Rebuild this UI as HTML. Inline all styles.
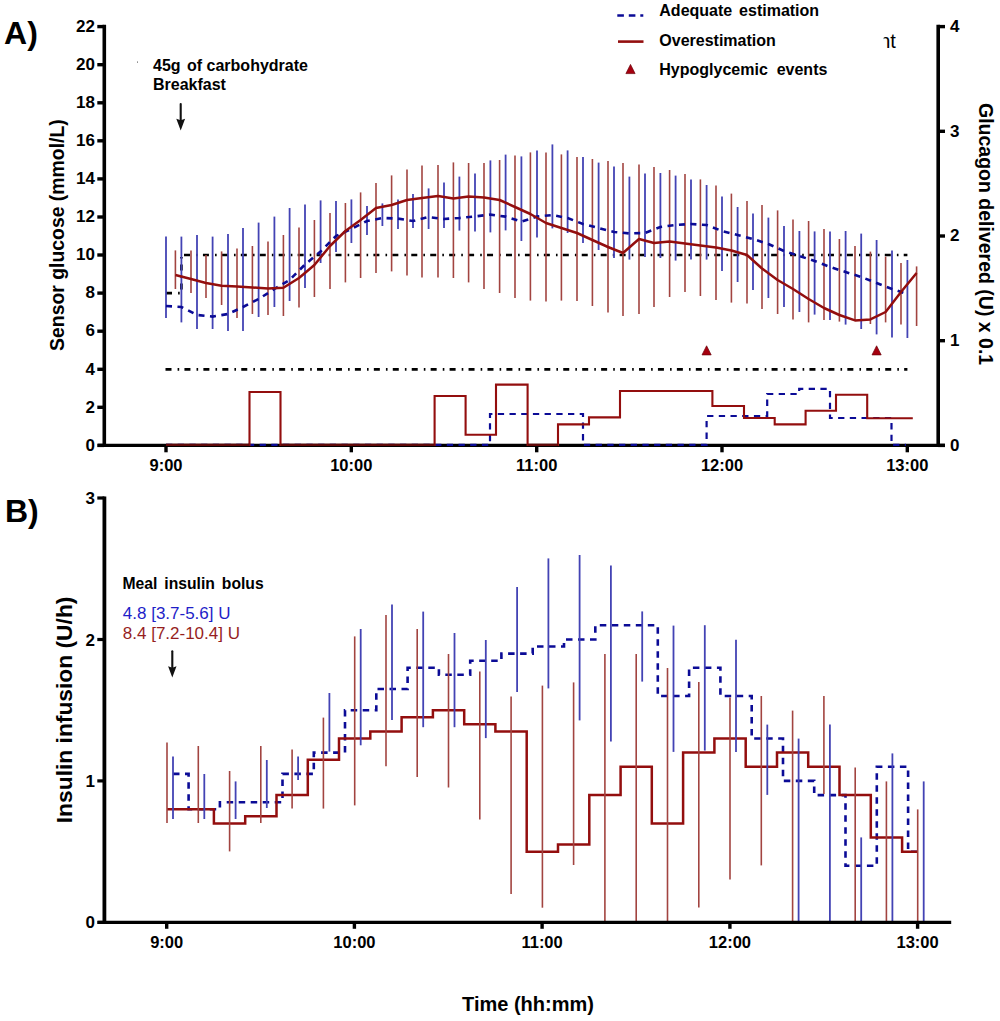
<!DOCTYPE html><html><head><meta charset="utf-8"><style>
html,body{margin:0;padding:0;background:#fff;width:1000px;height:1021px;overflow:hidden}
svg{position:absolute;left:0;top:0;display:block}
text{font-family:"Liberation Sans",sans-serif;font-weight:bold;fill:#000}
</style></head><body>
<svg width="1000" height="1021" viewBox="0 0 1000 1021">
<rect width="1000" height="1021" fill="#fff"/>
<polyline points="166.0,293.1 181.4,293.1 181.4,255.0" stroke="#000" stroke-width="2.7" fill="none" stroke-dasharray="6 6.1 1.6 5.24"/>
<line x1="184" y1="255.0" x2="907.4" y2="255.0" stroke="#000" stroke-width="2.7" fill="none" stroke-dasharray="6 6.1 1.6 5.24"/>
<line x1="165.5" y1="369.3" x2="907.4" y2="369.3" stroke="#000" stroke-width="2.7" fill="none" stroke-dasharray="6 6.1 1.6 5.24"/>
<line x1="166.0" y1="236.6" x2="166.0" y2="318.0" stroke="#4343b4" stroke-width="1.8"/>
<line x1="181.4" y1="236.6" x2="181.4" y2="322.4" stroke="#4343b4" stroke-width="1.8"/>
<line x1="197.0" y1="235.0" x2="197.0" y2="329.0" stroke="#4343b4" stroke-width="1.8"/>
<line x1="212.6" y1="236.6" x2="212.6" y2="329.0" stroke="#4343b4" stroke-width="1.8"/>
<line x1="228.0" y1="234.0" x2="228.0" y2="331.0" stroke="#4343b4" stroke-width="1.8"/>
<line x1="243.0" y1="228.0" x2="243.0" y2="331.0" stroke="#4343b4" stroke-width="1.8"/>
<line x1="258.6" y1="222.6" x2="258.6" y2="317.0" stroke="#4343b4" stroke-width="1.8"/>
<line x1="274.4" y1="216.6" x2="274.4" y2="307.0" stroke="#4343b4" stroke-width="1.8"/>
<line x1="289.6" y1="208.0" x2="289.6" y2="301.0" stroke="#4343b4" stroke-width="1.8"/>
<line x1="305.0" y1="204.4" x2="305.0" y2="288.0" stroke="#4343b4" stroke-width="1.8"/>
<line x1="320.6" y1="200.4" x2="320.6" y2="263.0" stroke="#4343b4" stroke-width="1.8"/>
<line x1="336.0" y1="201.0" x2="336.0" y2="252.0" stroke="#4343b4" stroke-width="1.8"/>
<line x1="351.4" y1="199.4" x2="351.4" y2="243.0" stroke="#4343b4" stroke-width="1.8"/>
<line x1="367.0" y1="206.0" x2="367.0" y2="235.0" stroke="#4343b4" stroke-width="1.8"/>
<line x1="382.4" y1="203.4" x2="382.4" y2="226.0" stroke="#4343b4" stroke-width="1.8"/>
<line x1="398.0" y1="199.6" x2="398.0" y2="229.0" stroke="#4343b4" stroke-width="1.8"/>
<line x1="413.0" y1="194.0" x2="413.0" y2="228.0" stroke="#4343b4" stroke-width="1.8"/>
<line x1="428.6" y1="188.4" x2="428.6" y2="229.0" stroke="#4343b4" stroke-width="1.8"/>
<line x1="444.0" y1="182.4" x2="444.0" y2="228.0" stroke="#4343b4" stroke-width="1.8"/>
<line x1="459.4" y1="176.6" x2="459.4" y2="230.6" stroke="#4343b4" stroke-width="1.8"/>
<line x1="475.0" y1="173.6" x2="475.0" y2="231.6" stroke="#4343b4" stroke-width="1.8"/>
<line x1="490.4" y1="160.4" x2="490.4" y2="232.4" stroke="#4343b4" stroke-width="1.8"/>
<line x1="505.6" y1="154.6" x2="505.6" y2="230.4" stroke="#4343b4" stroke-width="1.8"/>
<line x1="521.4" y1="156.4" x2="521.4" y2="241.0" stroke="#4343b4" stroke-width="1.8"/>
<line x1="537.0" y1="150.4" x2="537.0" y2="237.6" stroke="#4343b4" stroke-width="1.8"/>
<line x1="552.4" y1="144.4" x2="552.4" y2="228.4" stroke="#4343b4" stroke-width="1.8"/>
<line x1="567.6" y1="150.4" x2="567.6" y2="233.0" stroke="#4343b4" stroke-width="1.8"/>
<line x1="583.0" y1="157.0" x2="583.0" y2="243.0" stroke="#4343b4" stroke-width="1.8"/>
<line x1="598.6" y1="162.6" x2="598.6" y2="250.0" stroke="#4343b4" stroke-width="1.8"/>
<line x1="614.0" y1="166.6" x2="614.0" y2="258.0" stroke="#4343b4" stroke-width="1.8"/>
<line x1="629.4" y1="176.6" x2="629.4" y2="259.6" stroke="#4343b4" stroke-width="1.8"/>
<line x1="645.0" y1="173.6" x2="645.0" y2="257.0" stroke="#4343b4" stroke-width="1.8"/>
<line x1="660.4" y1="173.0" x2="660.4" y2="258.0" stroke="#4343b4" stroke-width="1.8"/>
<line x1="675.6" y1="175.6" x2="675.6" y2="260.6" stroke="#4343b4" stroke-width="1.8"/>
<line x1="691.0" y1="179.6" x2="691.0" y2="259.6" stroke="#4343b4" stroke-width="1.8"/>
<line x1="706.6" y1="185.0" x2="706.6" y2="259.6" stroke="#4343b4" stroke-width="1.8"/>
<line x1="722.0" y1="196.6" x2="722.0" y2="271.0" stroke="#4343b4" stroke-width="1.8"/>
<line x1="737.6" y1="207.0" x2="737.6" y2="282.0" stroke="#4343b4" stroke-width="1.8"/>
<line x1="753.0" y1="213.6" x2="753.0" y2="290.0" stroke="#4343b4" stroke-width="1.8"/>
<line x1="768.4" y1="217.6" x2="768.4" y2="298.0" stroke="#4343b4" stroke-width="1.8"/>
<line x1="784.0" y1="226.0" x2="784.0" y2="307.0" stroke="#4343b4" stroke-width="1.8"/>
<line x1="799.4" y1="231.0" x2="799.4" y2="312.0" stroke="#4343b4" stroke-width="1.8"/>
<line x1="814.6" y1="231.4" x2="814.6" y2="314.6" stroke="#4343b4" stroke-width="1.8"/>
<line x1="830.0" y1="231.4" x2="830.0" y2="320.0" stroke="#4343b4" stroke-width="1.8"/>
<line x1="845.6" y1="231.0" x2="845.6" y2="324.6" stroke="#4343b4" stroke-width="1.8"/>
<line x1="861.2" y1="233.6" x2="861.2" y2="329.0" stroke="#4343b4" stroke-width="1.8"/>
<line x1="876.6" y1="240.0" x2="876.6" y2="334.4" stroke="#4343b4" stroke-width="1.8"/>
<line x1="892.0" y1="250.6" x2="892.0" y2="337.4" stroke="#4343b4" stroke-width="1.8"/>
<line x1="907.4" y1="260.0" x2="907.4" y2="338.0" stroke="#4343b4" stroke-width="1.8"/>
<line x1="175.4" y1="250.4" x2="175.4" y2="289.0" stroke="#a24440" stroke-width="1.6"/>
<line x1="191.0" y1="250.4" x2="191.0" y2="293.0" stroke="#a24440" stroke-width="1.6"/>
<line x1="206.0" y1="255.0" x2="206.0" y2="298.0" stroke="#a24440" stroke-width="1.6"/>
<line x1="221.6" y1="251.4" x2="221.6" y2="305.0" stroke="#a24440" stroke-width="1.6"/>
<line x1="237.0" y1="248.4" x2="237.0" y2="318.0" stroke="#a24440" stroke-width="1.6"/>
<line x1="252.4" y1="246.0" x2="252.4" y2="314.0" stroke="#a24440" stroke-width="1.6"/>
<line x1="268.0" y1="241.6" x2="268.0" y2="315.0" stroke="#a24440" stroke-width="1.6"/>
<line x1="283.4" y1="235.0" x2="283.4" y2="316.0" stroke="#a24440" stroke-width="1.6"/>
<line x1="299.0" y1="227.4" x2="299.0" y2="307.6" stroke="#a24440" stroke-width="1.6"/>
<line x1="314.4" y1="220.0" x2="314.4" y2="297.0" stroke="#a24440" stroke-width="1.6"/>
<line x1="330.0" y1="213.0" x2="330.0" y2="289.0" stroke="#a24440" stroke-width="1.6"/>
<line x1="345.4" y1="203.0" x2="345.4" y2="282.4" stroke="#a24440" stroke-width="1.6"/>
<line x1="360.6" y1="192.4" x2="360.6" y2="278.0" stroke="#a24440" stroke-width="1.6"/>
<line x1="376.0" y1="183.0" x2="376.0" y2="273.0" stroke="#a24440" stroke-width="1.6"/>
<line x1="391.6" y1="175.4" x2="391.6" y2="271.4" stroke="#a24440" stroke-width="1.6"/>
<line x1="407.0" y1="169.6" x2="407.0" y2="275.6" stroke="#a24440" stroke-width="1.6"/>
<line x1="422.0" y1="165.6" x2="422.0" y2="277.6" stroke="#a24440" stroke-width="1.6"/>
<line x1="438.0" y1="165.0" x2="438.0" y2="277.4" stroke="#a24440" stroke-width="1.6"/>
<line x1="453.4" y1="162.4" x2="453.4" y2="278.0" stroke="#a24440" stroke-width="1.6"/>
<line x1="468.6" y1="163.0" x2="468.6" y2="282.4" stroke="#a24440" stroke-width="1.6"/>
<line x1="484.0" y1="163.0" x2="484.0" y2="289.0" stroke="#a24440" stroke-width="1.6"/>
<line x1="499.6" y1="160.0" x2="499.6" y2="293.0" stroke="#a24440" stroke-width="1.6"/>
<line x1="515.0" y1="155.6" x2="515.0" y2="298.0" stroke="#a24440" stroke-width="1.6"/>
<line x1="530.4" y1="152.4" x2="530.4" y2="300.6" stroke="#a24440" stroke-width="1.6"/>
<line x1="546.0" y1="152.4" x2="546.0" y2="301.6" stroke="#a24440" stroke-width="1.6"/>
<line x1="561.4" y1="154.4" x2="561.4" y2="300.6" stroke="#a24440" stroke-width="1.6"/>
<line x1="577.0" y1="157.0" x2="577.0" y2="301.0" stroke="#a24440" stroke-width="1.6"/>
<line x1="592.4" y1="159.0" x2="592.4" y2="306.0" stroke="#a24440" stroke-width="1.6"/>
<line x1="608.0" y1="161.0" x2="608.0" y2="312.4" stroke="#a24440" stroke-width="1.6"/>
<line x1="623.0" y1="163.0" x2="623.0" y2="316.0" stroke="#a24440" stroke-width="1.6"/>
<line x1="639.0" y1="164.6" x2="639.0" y2="314.0" stroke="#a24440" stroke-width="1.6"/>
<line x1="654.0" y1="167.0" x2="654.0" y2="307.0" stroke="#a24440" stroke-width="1.6"/>
<line x1="669.6" y1="170.0" x2="669.6" y2="297.0" stroke="#a24440" stroke-width="1.6"/>
<line x1="685.0" y1="174.0" x2="685.0" y2="292.0" stroke="#a24440" stroke-width="1.6"/>
<line x1="700.4" y1="179.4" x2="700.4" y2="296.0" stroke="#a24440" stroke-width="1.6"/>
<line x1="716.0" y1="185.6" x2="716.0" y2="300.0" stroke="#a24440" stroke-width="1.6"/>
<line x1="731.4" y1="193.6" x2="731.4" y2="302.6" stroke="#a24440" stroke-width="1.6"/>
<line x1="747.0" y1="201.0" x2="747.0" y2="303.6" stroke="#a24440" stroke-width="1.6"/>
<line x1="762.0" y1="205.0" x2="762.0" y2="309.0" stroke="#a24440" stroke-width="1.6"/>
<line x1="777.6" y1="210.4" x2="777.6" y2="314.0" stroke="#a24440" stroke-width="1.6"/>
<line x1="793.0" y1="219.6" x2="793.0" y2="319.6" stroke="#a24440" stroke-width="1.6"/>
<line x1="808.6" y1="221.0" x2="808.6" y2="322.4" stroke="#a24440" stroke-width="1.6"/>
<line x1="824.0" y1="229.0" x2="824.0" y2="320.0" stroke="#a24440" stroke-width="1.6"/>
<line x1="839.4" y1="239.0" x2="839.4" y2="321.6" stroke="#a24440" stroke-width="1.6"/>
<line x1="855.0" y1="246.0" x2="855.0" y2="321.0" stroke="#a24440" stroke-width="1.6"/>
<line x1="870.4" y1="251.6" x2="870.4" y2="324.0" stroke="#a24440" stroke-width="1.6"/>
<line x1="885.6" y1="256.6" x2="885.6" y2="322.4" stroke="#a24440" stroke-width="1.6"/>
<line x1="901.0" y1="263.0" x2="901.0" y2="324.6" stroke="#a24440" stroke-width="1.6"/>
<line x1="916.6" y1="266.4" x2="916.6" y2="326.0" stroke="#a24440" stroke-width="1.6"/>
<polyline points="166.0,306.0 181.4,307.0 197.0,315.0 212.6,316.6 228.0,314.0 243.0,307.0 258.6,299.0 274.4,289.0 289.6,280.0 305.0,264.5 320.6,251.5 336.0,236.0 351.4,229.0 367.0,221.0 382.4,218.0 398.0,218.6 413.0,221.0 428.6,217.0 444.0,219.0 459.4,218.0 475.0,216.4 490.4,214.6 505.6,216.6 521.4,221.6 537.0,216.6 552.4,215.0 567.6,218.0 583.0,224.0 598.6,228.0 614.0,232.0 629.4,233.4 645.0,233.0 660.4,227.0 675.6,225.0 691.0,224.0 706.6,225.0 722.0,231.0 737.6,235.0 753.0,239.0 768.4,244.0 784.0,251.0 799.4,256.0 814.6,261.0 830.0,267.0 845.6,272.0 861.2,277.0 876.6,283.0 892.0,289.0 907.4,294.0" fill="none" stroke="#0b0b96" stroke-width="2.6" stroke-dasharray="6 5.5"/>
<polyline points="175.4,275.0 191.0,279.0 206.0,283.0 221.6,285.8 237.0,286.6 252.4,287.5 268.0,288.5 283.4,287.8 299.0,278.0 314.4,265.0 330.0,246.0 345.4,231.0 360.6,220.0 376.0,208.0 391.6,205.0 407.0,200.0 422.0,198.0 438.0,196.0 453.4,198.4 468.6,196.6 484.0,197.4 499.6,200.0 515.0,207.0 530.4,214.0 546.0,223.0 561.4,228.0 577.0,233.0 592.4,240.0 608.0,247.0 623.0,253.0 639.0,239.0 654.0,243.0 669.6,241.6 685.0,243.6 700.4,245.4 716.0,247.4 731.4,250.5 747.0,255.0 762.0,268.5 777.6,280.0 793.0,289.0 808.6,299.0 824.0,308.0 839.4,315.0 855.0,320.4 870.4,319.4 885.6,312.0 901.0,292.0 916.6,273.0" fill="none" stroke="#930e0e" stroke-width="2.5" stroke-linejoin="round"/>
<polygon points="706.6,345.8 702.0,354.9 711.2,354.9" fill="#a6000f" stroke="#6a0008" stroke-width="0.7" stroke-linejoin="round"/>
<polygon points="876.6,345.8 872.0,354.9 881.2,354.9" fill="#a6000f" stroke="#6a0008" stroke-width="0.7" stroke-linejoin="round"/>
<line x1="104.3" y1="24.7" x2="104.3" y2="447" stroke="#000" stroke-width="3.6"/>
<line x1="97.8" y1="445.4" x2="944.8" y2="445.4" stroke="#000" stroke-width="3.3"/>
<line x1="938.2" y1="24.7" x2="938.2" y2="447" stroke="#000" stroke-width="3.6"/>
<line x1="97.3" y1="445.4" x2="104.3" y2="445.4" stroke="#000" stroke-width="3.4"/>
<text x="94.9" y="450.6" font-size="17" text-anchor="end">0</text>
<line x1="97.3" y1="407.3" x2="104.3" y2="407.3" stroke="#000" stroke-width="3.4"/>
<text x="94.9" y="412.5" font-size="17" text-anchor="end">2</text>
<line x1="97.3" y1="369.3" x2="104.3" y2="369.3" stroke="#000" stroke-width="3.4"/>
<text x="94.9" y="374.5" font-size="17" text-anchor="end">4</text>
<line x1="97.3" y1="331.2" x2="104.3" y2="331.2" stroke="#000" stroke-width="3.4"/>
<text x="94.9" y="336.4" font-size="17" text-anchor="end">6</text>
<line x1="97.3" y1="293.1" x2="104.3" y2="293.1" stroke="#000" stroke-width="3.4"/>
<text x="94.9" y="298.3" font-size="17" text-anchor="end">8</text>
<line x1="97.3" y1="255.0" x2="104.3" y2="255.0" stroke="#000" stroke-width="3.4"/>
<text x="94.9" y="260.2" font-size="17" text-anchor="end">10</text>
<line x1="97.3" y1="217.0" x2="104.3" y2="217.0" stroke="#000" stroke-width="3.4"/>
<text x="94.9" y="222.2" font-size="17" text-anchor="end">12</text>
<line x1="97.3" y1="178.9" x2="104.3" y2="178.9" stroke="#000" stroke-width="3.4"/>
<text x="94.9" y="184.1" font-size="17" text-anchor="end">14</text>
<line x1="97.3" y1="140.8" x2="104.3" y2="140.8" stroke="#000" stroke-width="3.4"/>
<text x="94.9" y="146.0" font-size="17" text-anchor="end">16</text>
<line x1="97.3" y1="102.8" x2="104.3" y2="102.8" stroke="#000" stroke-width="3.4"/>
<text x="94.9" y="108.0" font-size="17" text-anchor="end">18</text>
<line x1="97.3" y1="64.7" x2="104.3" y2="64.7" stroke="#000" stroke-width="3.4"/>
<text x="94.9" y="69.9" font-size="17" text-anchor="end">20</text>
<line x1="97.3" y1="26.6" x2="104.3" y2="26.6" stroke="#000" stroke-width="3.4"/>
<text x="94.9" y="31.8" font-size="17" text-anchor="end">22</text>
<line x1="938.2" y1="445.4" x2="945" y2="445.4" stroke="#000" stroke-width="3.4"/>
<text x="949.9" y="450.7" font-size="17">0</text>
<line x1="938.2" y1="340.7" x2="945" y2="340.7" stroke="#000" stroke-width="3.4"/>
<text x="949.9" y="346.0" font-size="17">1</text>
<line x1="938.2" y1="236.0" x2="945" y2="236.0" stroke="#000" stroke-width="3.4"/>
<text x="949.9" y="241.3" font-size="17">2</text>
<line x1="938.2" y1="131.3" x2="945" y2="131.3" stroke="#000" stroke-width="3.4"/>
<text x="949.9" y="136.6" font-size="17">3</text>
<line x1="938.2" y1="26.6" x2="945" y2="26.6" stroke="#000" stroke-width="3.4"/>
<text x="949.9" y="31.9" font-size="17">4</text>
<line x1="166.0" y1="445.4" x2="166.0" y2="452.3" stroke="#000" stroke-width="3.4"/>
<text x="166.0" y="471" font-size="16.5" text-anchor="middle">9:00</text>
<line x1="351.3" y1="445.4" x2="351.3" y2="452.3" stroke="#000" stroke-width="3.4"/>
<text x="351.3" y="471" font-size="16.5" text-anchor="middle">10:00</text>
<line x1="536.7" y1="445.4" x2="536.7" y2="452.3" stroke="#000" stroke-width="3.4"/>
<text x="536.7" y="471" font-size="16.5" text-anchor="middle">11:00</text>
<line x1="722.0" y1="445.4" x2="722.0" y2="452.3" stroke="#000" stroke-width="3.4"/>
<text x="722.0" y="471" font-size="16.5" text-anchor="middle">12:00</text>
<line x1="907.3" y1="445.4" x2="907.3" y2="452.3" stroke="#000" stroke-width="3.4"/>
<text x="907.3" y="471" font-size="16.5" text-anchor="middle">13:00</text>
<polyline points="166.0,444.9 490.0,444.9 490.0,414.0 583.0,414.0 583.0,444.9 706.6,444.9 706.6,416.0 767.2,416.0 767.2,394.0 799.2,394.0 799.2,388.9 830.0,388.9 830.0,418.0 891.5,418.0 891.5,444.9 906.0,444.9" fill="none" stroke="#0b0b96" stroke-width="2.2" stroke-dasharray="6.3 5.4"/>
<polyline points="166.0,444.9 249.5,444.9 249.5,392.0 280.5,392.0 280.5,444.9 434.6,444.9 434.6,396.0 465.6,396.0 465.6,434.8 496.0,434.8 496.0,384.6 527.6,384.6 527.6,444.9 558.0,444.9 558.0,424.4 589.0,424.4 589.0,417.4 620.0,417.4 620.0,391.0 712.4,391.0 712.4,406.0 744.0,406.0 744.0,418.0 774.7,418.0 774.7,424.4 805.6,424.4 805.6,410.8 836.0,410.8 836.0,394.8 867.2,394.8 867.2,418.3 912.8,418.3" fill="none" stroke="#930e0e" stroke-width="2.1"/>
<line x1="166.0" y1="444.9" x2="249.5" y2="444.9" stroke="#000" stroke-opacity="0.35" stroke-width="2.1"/>
<line x1="280.5" y1="444.9" x2="434.6" y2="444.9" stroke="#000" stroke-opacity="0.35" stroke-width="2.1"/>
<line x1="527.6" y1="444.9" x2="558.0" y2="444.9" stroke="#000" stroke-opacity="0.35" stroke-width="2.1"/>
<text x="4.1" y="44.2" font-size="32">A)</text>
<text transform="translate(64,235.1) rotate(-90)" font-size="19.4" text-anchor="middle">Sensor glucose (mmol/L)</text>
<text transform="translate(979.3,234.1) rotate(90)" font-size="19.5" text-anchor="middle">Glucagon delivered (U) x 0.1</text>
<text x="153" y="70.5" font-size="16">45g<tspan dx="2"> of carbohydrate</tspan></text>
<text x="153" y="90" font-size="16">Breakfast</text>
<line x1="180.7" y1="104" x2="180.7" y2="121" stroke="#111" stroke-width="2.1" stroke-linecap="round"/>
<polygon points="176.3,118.8 180.7,120.3 185.1,118.8 180.7,130.6" fill="#111"/>
<rect x="137" y="61.5" width="1" height="1.2" fill="#666"/>
<line x1="617.3" y1="15.5" x2="643.3" y2="15.5" stroke="#0b0b96" stroke-width="2.4" stroke-dasharray="6.6 4.9"/>
<line x1="618" y1="41.6" x2="643.5" y2="41.6" stroke="#930e0e" stroke-width="2.6"/>
<polygon points="630.5,64.4 625.9,73.6 635.1,73.6" fill="#a6000f" stroke="#6a0008" stroke-width="0.7" stroke-linejoin="round"/>
<text x="659.3" y="16" font-size="16" xml:space="preserve" word-spacing="-1">Adequate  estimation</text>
<text x="659.3" y="45.6" font-size="16">Overestimation</text>
<text x="659.3" y="75.2" font-size="16" xml:space="preserve">Hypoglycemic  events</text>
<svg x="883.6" y="25" width="20" height="30" overflow="hidden"><text x="-4.4" y="22.9" font-size="20" style="font-weight:normal">nt</text></svg>
<polyline points="173.0,773.9 188.6,773.9 188.6,809.2 219.9,809.2 219.9,802.2 251.2,802.2 251.2,802.2 282.5,802.2 282.5,773.9 313.8,773.9 313.8,752.6 345.0,752.6 345.0,710.2 376.3,710.2 376.3,689.0 407.6,689.0 407.6,667.8 438.9,667.8 438.9,674.8 470.2,674.8 470.2,660.7 501.4,660.7 501.4,653.6 532.7,653.6 532.7,646.5 564.0,646.5 564.0,639.5 595.3,639.5 595.3,625.3 626.6,625.3 626.6,625.3 657.8,625.3 657.8,696.0 689.1,696.0 689.1,667.8 720.4,667.8 720.4,696.0 751.7,696.0 751.7,738.5 783.0,738.5 783.0,780.9 814.2,780.9 814.2,795.1 845.5,795.1 845.5,865.8 876.8,865.8 876.8,766.8 908.1,766.8 908.1,851.7 923.7,851.7" fill="none" stroke="#0b0b96" stroke-width="2.6" stroke-dasharray="6.5 5.5"/>
<polyline points="167.0,809.2 182.6,809.2 182.6,809.2 213.9,809.2 213.9,823.4 245.2,823.4 245.2,816.3 276.5,816.3 276.5,795.1 307.8,795.1 307.8,759.7 339.0,759.7 339.0,738.5 370.3,738.5 370.3,731.4 401.6,731.4 401.6,717.3 432.9,717.3 432.9,710.2 464.2,710.2 464.2,724.3 495.4,724.3 495.4,731.4 526.7,731.4 526.7,851.7 558.0,851.7 558.0,844.6 589.3,844.6 589.3,795.1 620.6,795.1 620.6,766.8 651.8,766.8 651.8,823.4 683.1,823.4 683.1,752.6 714.4,752.6 714.4,738.5 745.7,738.5 745.7,766.8 777.0,766.8 777.0,752.6 808.2,752.6 808.2,766.8 839.5,766.8 839.5,795.1 870.8,795.1 870.8,837.5 902.1,837.5 902.1,851.7 917.7,851.7" fill="none" stroke="#930e0e" stroke-width="2.5"/>
<line x1="167.0" y1="742.4" x2="167.0" y2="823.0" stroke="#a24440" stroke-width="1.6"/>
<line x1="198.3" y1="746.0" x2="198.3" y2="823.0" stroke="#a24440" stroke-width="1.6"/>
<line x1="229.6" y1="771.0" x2="229.6" y2="851.4" stroke="#a24440" stroke-width="1.6"/>
<line x1="260.8" y1="746.0" x2="260.8" y2="823.0" stroke="#a24440" stroke-width="1.6"/>
<line x1="292.1" y1="749.6" x2="292.1" y2="808.6" stroke="#a24440" stroke-width="1.6"/>
<line x1="323.4" y1="717.6" x2="323.4" y2="808.6" stroke="#a24440" stroke-width="1.6"/>
<line x1="354.7" y1="636.4" x2="354.7" y2="805.4" stroke="#a24440" stroke-width="1.6"/>
<line x1="386.0" y1="615.0" x2="386.0" y2="766.3" stroke="#a24440" stroke-width="1.6"/>
<line x1="417.2" y1="629.0" x2="417.2" y2="777.0" stroke="#a24440" stroke-width="1.6"/>
<line x1="448.5" y1="654.0" x2="448.5" y2="787.5" stroke="#a24440" stroke-width="1.6"/>
<line x1="479.8" y1="671.6" x2="479.8" y2="819.4" stroke="#a24440" stroke-width="1.6"/>
<line x1="511.1" y1="696.4" x2="511.1" y2="893.9" stroke="#a24440" stroke-width="1.6"/>
<line x1="542.4" y1="685.6" x2="542.4" y2="907.7" stroke="#a24440" stroke-width="1.6"/>
<line x1="573.6" y1="682.4" x2="573.6" y2="865.0" stroke="#a24440" stroke-width="1.6"/>
<line x1="604.9" y1="654.0" x2="604.9" y2="922.0" stroke="#a24440" stroke-width="1.6"/>
<line x1="636.2" y1="654.0" x2="636.2" y2="922.0" stroke="#a24440" stroke-width="1.6"/>
<line x1="667.5" y1="668.0" x2="667.5" y2="922.0" stroke="#a24440" stroke-width="1.6"/>
<line x1="698.8" y1="682.0" x2="698.8" y2="907.4" stroke="#a24440" stroke-width="1.6"/>
<line x1="730.0" y1="697.4" x2="730.0" y2="879.4" stroke="#a24440" stroke-width="1.6"/>
<line x1="761.3" y1="696.0" x2="761.3" y2="865.4" stroke="#a24440" stroke-width="1.6"/>
<line x1="792.6" y1="710.6" x2="792.6" y2="922.0" stroke="#a24440" stroke-width="1.6"/>
<line x1="823.9" y1="696.0" x2="823.9" y2="794.0" stroke="#a24440" stroke-width="1.6"/>
<line x1="855.2" y1="767.4" x2="855.2" y2="922.0" stroke="#a24440" stroke-width="1.6"/>
<line x1="886.4" y1="781.4" x2="886.4" y2="922.0" stroke="#a24440" stroke-width="1.6"/>
<line x1="917.7" y1="809.4" x2="917.7" y2="922.0" stroke="#a24440" stroke-width="1.6"/>
<line x1="173.0" y1="756.4" x2="173.0" y2="819.0" stroke="#4343b4" stroke-width="1.8"/>
<line x1="204.3" y1="774.0" x2="204.3" y2="819.0" stroke="#4343b4" stroke-width="1.8"/>
<line x1="235.6" y1="781.4" x2="235.6" y2="819.0" stroke="#4343b4" stroke-width="1.8"/>
<line x1="266.8" y1="760.0" x2="266.8" y2="808.0" stroke="#4343b4" stroke-width="1.8"/>
<line x1="298.1" y1="756.6" x2="298.1" y2="780.0" stroke="#4343b4" stroke-width="1.8"/>
<line x1="329.4" y1="693.0" x2="329.4" y2="751.6" stroke="#4343b4" stroke-width="1.8"/>
<line x1="360.7" y1="629.0" x2="360.7" y2="745.3" stroke="#4343b4" stroke-width="1.8"/>
<line x1="392.0" y1="604.4" x2="392.0" y2="720.0" stroke="#4343b4" stroke-width="1.8"/>
<line x1="423.2" y1="611.6" x2="423.2" y2="727.2" stroke="#4343b4" stroke-width="1.8"/>
<line x1="454.5" y1="633.0" x2="454.5" y2="727.2" stroke="#4343b4" stroke-width="1.8"/>
<line x1="485.8" y1="640.0" x2="485.8" y2="738.1" stroke="#4343b4" stroke-width="1.8"/>
<line x1="517.1" y1="587.0" x2="517.1" y2="692.0" stroke="#4343b4" stroke-width="1.8"/>
<line x1="548.4" y1="558.4" x2="548.4" y2="688.4" stroke="#4343b4" stroke-width="1.8"/>
<line x1="579.6" y1="555.0" x2="579.6" y2="720.4" stroke="#4343b4" stroke-width="1.8"/>
<line x1="610.9" y1="565.6" x2="610.9" y2="741.6" stroke="#4343b4" stroke-width="1.8"/>
<line x1="642.2" y1="611.4" x2="642.2" y2="681.6" stroke="#4343b4" stroke-width="1.8"/>
<line x1="673.5" y1="625.6" x2="673.5" y2="751.9" stroke="#4343b4" stroke-width="1.8"/>
<line x1="704.8" y1="625.2" x2="704.8" y2="750.6" stroke="#4343b4" stroke-width="1.8"/>
<line x1="736.0" y1="639.7" x2="736.0" y2="752.0" stroke="#4343b4" stroke-width="1.8"/>
<line x1="767.3" y1="724.6" x2="767.3" y2="794.9" stroke="#4343b4" stroke-width="1.8"/>
<line x1="798.6" y1="738.6" x2="798.6" y2="922.0" stroke="#4343b4" stroke-width="1.8"/>
<line x1="829.9" y1="724.6" x2="829.9" y2="922.0" stroke="#4343b4" stroke-width="1.8"/>
<line x1="861.2" y1="837.4" x2="861.2" y2="922.0" stroke="#4343b4" stroke-width="1.8"/>
<line x1="892.4" y1="753.4" x2="892.4" y2="922.0" stroke="#4343b4" stroke-width="1.8"/>
<line x1="923.7" y1="781.4" x2="923.7" y2="922.0" stroke="#4343b4" stroke-width="1.8"/>
<line x1="104.4" y1="496.5" x2="104.4" y2="924" stroke="#000" stroke-width="3.8"/>
<line x1="97.7" y1="922.4" x2="951.2" y2="922.4" stroke="#000" stroke-width="3.4"/>
<line x1="97.3" y1="922.4" x2="104.4" y2="922.4" stroke="#000" stroke-width="3.2"/>
<text x="95" y="928.4" font-size="17" text-anchor="end">0</text>
<line x1="97.3" y1="780.9" x2="104.4" y2="780.9" stroke="#000" stroke-width="3.2"/>
<text x="95" y="786.9" font-size="17" text-anchor="end">1</text>
<line x1="97.3" y1="639.5" x2="104.4" y2="639.5" stroke="#000" stroke-width="3.2"/>
<text x="95" y="645.5" font-size="17" text-anchor="end">2</text>
<line x1="97.3" y1="498.0" x2="104.4" y2="498.0" stroke="#000" stroke-width="3.2"/>
<text x="95" y="504.0" font-size="17" text-anchor="end">3</text>
<line x1="166.7" y1="922.4" x2="166.7" y2="928.8" stroke="#000" stroke-width="3.4"/>
<text x="166.7" y="947.5" font-size="16.5" text-anchor="middle">9:00</text>
<line x1="354.4" y1="922.4" x2="354.4" y2="928.8" stroke="#000" stroke-width="3.4"/>
<text x="354.4" y="947.5" font-size="16.5" text-anchor="middle">10:00</text>
<line x1="542.1" y1="922.4" x2="542.1" y2="928.8" stroke="#000" stroke-width="3.4"/>
<text x="542.1" y="947.5" font-size="16.5" text-anchor="middle">11:00</text>
<line x1="729.9" y1="922.4" x2="729.9" y2="928.8" stroke="#000" stroke-width="3.4"/>
<text x="729.9" y="947.5" font-size="16.5" text-anchor="middle">12:00</text>
<line x1="917.6" y1="922.4" x2="917.6" y2="928.8" stroke="#000" stroke-width="3.4"/>
<text x="917.6" y="947.5" font-size="16.5" text-anchor="middle">13:00</text>
<text x="5" y="522.1" font-size="32">B)</text>
<text transform="translate(71.6,709.9) rotate(-90)" font-size="22.8" text-anchor="middle">Insulin infusion (U/h)</text>
<text x="122.5" y="589" font-size="15.7" word-spacing="2.6">Meal insulin bolus</text>
<text x="122.8" y="619" font-size="17" style="font-weight:normal;fill:#1e1ec8">4.8 [3.7-5.6] U</text>
<text x="122.8" y="639.3" font-size="17" style="font-weight:normal;fill:#961e1e">8.4 [7.2-10.4] U</text>
<line x1="172.3" y1="651.2" x2="172.3" y2="668" stroke="#111" stroke-width="2.1" stroke-linecap="round"/>
<polygon points="168.1,666.3 172.3,667.8 176.5,666.3 172.3,677.4" fill="#111"/>
<text x="528" y="1011.3" font-size="20" text-anchor="middle">Time (hh:mm)</text>
</svg></body></html>
